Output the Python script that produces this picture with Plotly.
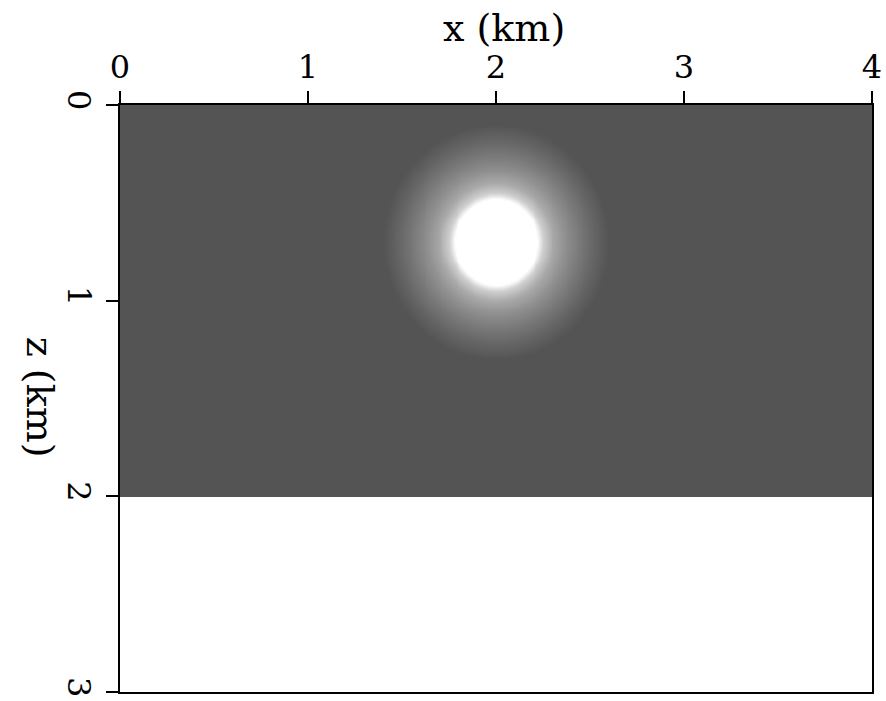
import numpy as np
import plotly.graph_objects as go

# Model extent (km)
x_range = [0.0, 4.0]
z_range = [0.0, 3.0]
model_depth = 2.0

# Tick labels
x_ticks = [0, 1, 2, 3, 4]
z_ticks = [0, 1, 2, 3]

# Velocity model: constant background with a circular high-velocity anomaly
v_background = 2.0          # km/s
anomaly_center_x = 2.0      # km
anomaly_center_z = 0.70     # km
# radial velocity profile of the anomaly (distance from centre in km, velocity in km/s)
profile_r = [0.0, 0.22, 0.25, 0.30, 0.36, 0.44, 0.52, 0.60, 5.0]
profile_v = [3.0, 3.0, 2.72, 2.50, 2.36, 2.22, 2.10, 2.0, 2.0]

dx = 0.01
xs = np.arange(x_range[0], x_range[1] + dx / 2, dx)
zs = np.arange(0.0, model_depth + dx / 2, dx)
XX, ZZ = np.meshgrid(xs, zs)
RR = np.hypot(XX - anomaly_center_x, ZZ - anomaly_center_z)
vel = np.interp(RR, profile_r, profile_v)

fig = go.Figure()
fig.add_trace(go.Heatmap(
    x=xs, y=zs, z=vel,
    zmin=v_background, zmax=3.0,
    colorscale=[[0.0, "rgb(84,84,84)"], [1.0, "rgb(255,255,255)"]],
    showscale=False, zsmooth="best", hoverinfo="skip",
))

font_family = "DejaVu Serif, Liberation Serif, serif"

fig.update_layout(
    width=886, height=701,
    margin=dict(l=120, r=14, t=105, b=9, autoexpand=False),
    paper_bgcolor="white", plot_bgcolor="white",
    font=dict(family=font_family, size=32, color="black"),
    xaxis=dict(
        range=x_range, side="top", tickvals=x_ticks,
        ticks="outside", ticklen=12, tickwidth=2, tickcolor="black",
        showline=True, linewidth=2, linecolor="black", mirror=True,
        showgrid=False, zeroline=False, ticklabeloverflow="allow",
        automargin=False, tickfont=dict(size=32),
    ),
    yaxis=dict(
        range=[z_range[1], z_range[0]], tickvals=z_ticks,
        ticks="outside", ticklen=12, tickwidth=2, tickcolor="black",
        showline=True, linewidth=2, linecolor="black", mirror=True,
        showgrid=False, zeroline=False, tickangle=90, ticklabeloverflow="allow",
        automargin=False, tickfont=dict(size=32),
    ),
    annotations=[
        dict(text="x (km)", xref="paper", yref="paper", x=0.51, y=1.0,
             yshift=77, xanchor="center", yanchor="middle",
             showarrow=False, font=dict(size=38)),
        dict(text="z (km)", xref="paper", yref="paper", x=0.0, y=0.503,
             xshift=-80, xanchor="center", yanchor="middle", textangle=90,
             showarrow=False, font=dict(size=38)),
    ],
)

fig.write_html("out.html")
